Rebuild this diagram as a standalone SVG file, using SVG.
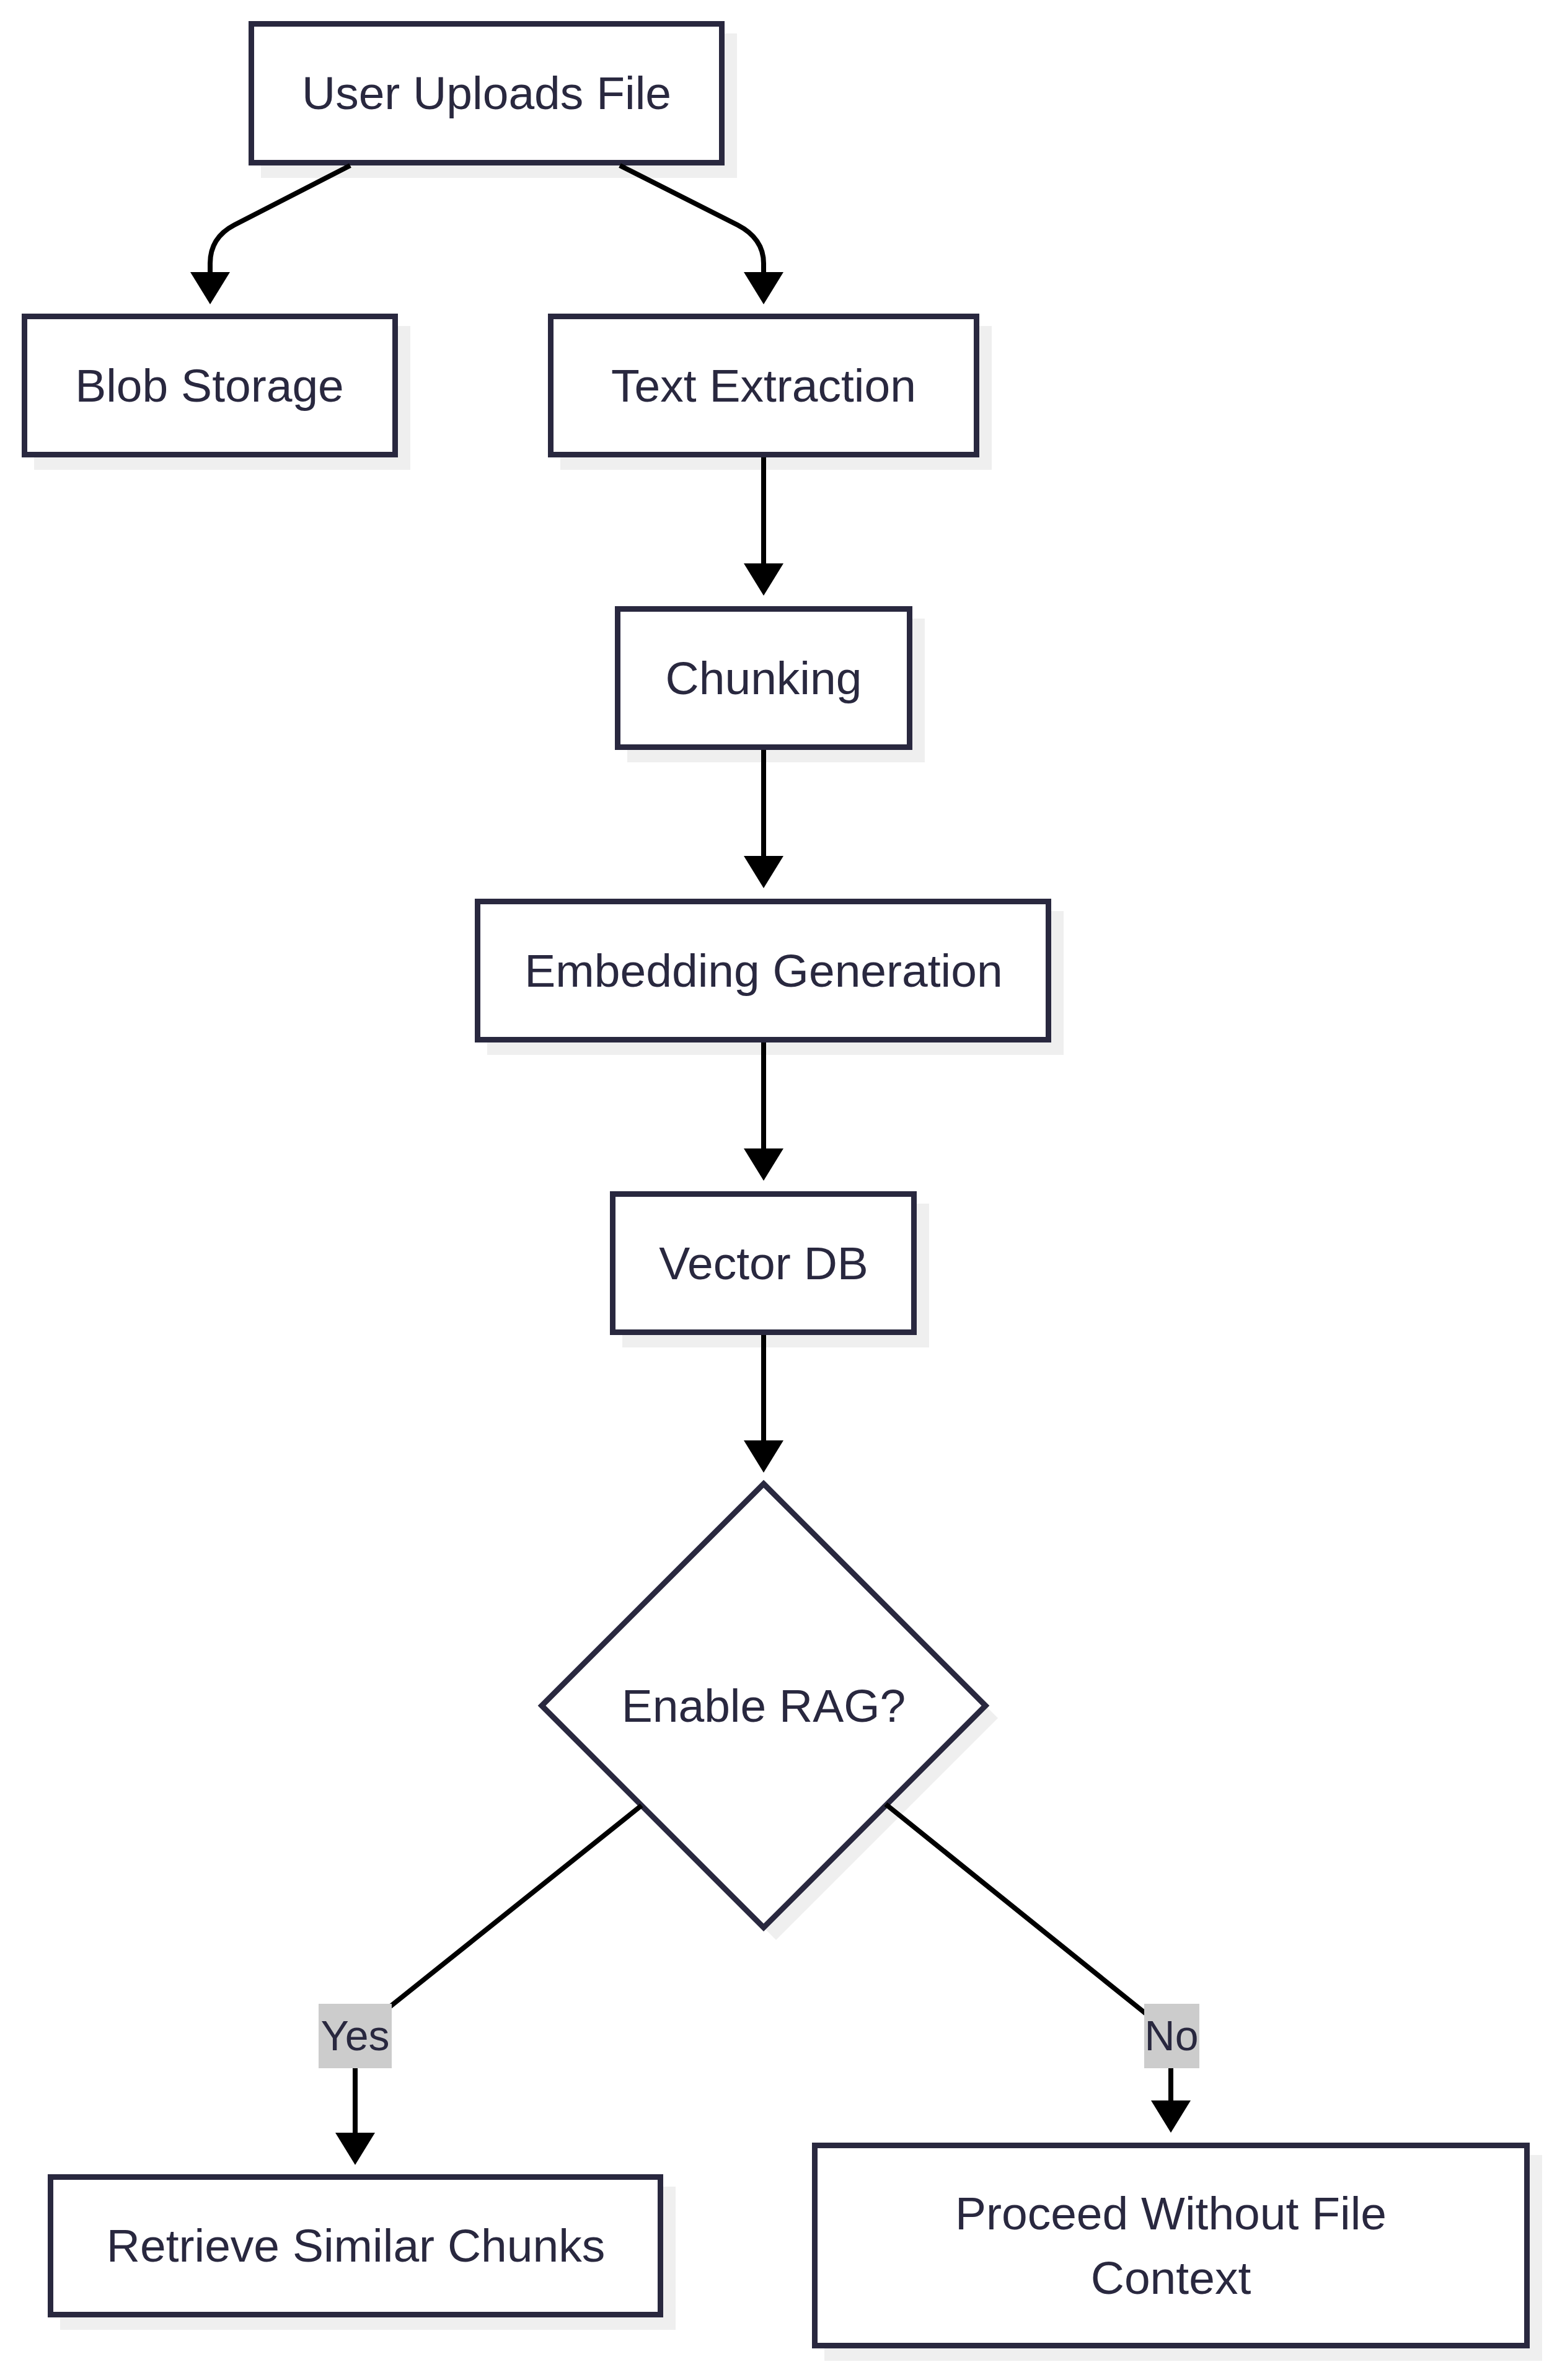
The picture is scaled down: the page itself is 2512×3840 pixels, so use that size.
<svg xmlns="http://www.w3.org/2000/svg" width="2512" height="3840" viewBox="0 0 2512 3840">
<defs>
<style>
.node rect.box, .node polygon.box { fill:#ffffff; stroke:#29283f; stroke-width:9; }
.shadow { fill:#efefef; stroke:none; }
.label { font-family:"Liberation Sans", Arial, sans-serif; font-size:75px; fill:#29283f; text-anchor:middle; }
.elabel { font-family:"Liberation Sans", Arial, sans-serif; font-size:68px; fill:#29283f; text-anchor:middle; }
.edge { fill:none; stroke:#000000; stroke-width:8; }
.lblbg { fill:#cccccc; }
</style>
<marker id="arrow" markerUnits="userSpaceOnUse" markerWidth="54" markerHeight="64" refX="0" refY="32" orient="auto" viewBox="0 0 54 64">
<path d="M0,0 L52,32 L0,64 z" fill="#000000"/>
</marker>
</defs>
<rect x="0" y="0" width="2512" height="3840" fill="#ffffff"/>

<g id="node-upload" class="node">
<rect class="shadow" x="421" y="54" width="768" height="233"/>
<rect class="box" x="405.5" y="38.5" width="759" height="224"/>
<text class="label" x="785" y="176">User Uploads File</text>
</g>

<g id="node-blob" class="node">
<rect class="shadow" x="55" y="526" width="607" height="232"/>
<rect class="box" x="39.5" y="510.5" width="598" height="223"/>
<text class="label" x="338" y="648">Blob Storage</text>
</g>

<g id="node-text" class="node">
<rect class="shadow" x="904" y="526" width="696" height="232"/>
<rect class="box" x="888.5" y="510.5" width="687" height="223"/>
<text class="label" x="1232" y="648">Text Extraction</text>
</g>

<g id="node-chunking" class="node">
<rect class="shadow" x="1012" y="998" width="480" height="232"/>
<rect class="box" x="996.5" y="982.5" width="471" height="223"/>
<text class="label" x="1232" y="1120">Chunking</text>
</g>

<g id="node-embedding" class="node">
<rect class="shadow" x="786" y="1470" width="930" height="232"/>
<rect class="box" x="770.5" y="1454.5" width="921" height="223"/>
<text class="label" x="1232" y="1592">Embedding Generation</text>
</g>

<g id="node-vector" class="node">
<rect class="shadow" x="1004" y="1942" width="495" height="232"/>
<rect class="box" x="988.5" y="1926.5" width="486" height="223"/>
<text class="label" x="1232" y="2064">Vector DB</text>
</g>

<g id="node-decision" class="node">
<polygon class="shadow" points="1252,2414 1610,2772 1252,3130 894,2772"/>
<polygon class="box" points="1232,2394 1590,2752 1232,3110 874,2752"/>
<text class="label" x="1232" y="2778">Enable RAG?</text>
</g>

<g id="node-retrieve" class="node">
<rect class="shadow" x="97" y="3528" width="993" height="231"/>
<rect class="box" x="81.5" y="3512.5" width="984" height="222"/>
<text class="label" x="574" y="3649">Retrieve Similar Chunks</text>
</g>

<g id="node-proceed" class="node">
<rect class="shadow" x="1330" y="3477" width="1158" height="332"/>
<rect class="box" x="1314.5" y="3461.5" width="1149" height="323"/>
<text class="label" x="1889" y="3597">Proceed Without File</text>
<text class="label" x="1889" y="3701">Context</text>
</g>

<g id="connectors">
<path class="edge" d="M565,267 L378,363 C355,375 339,395 339,425 L339,439" marker-end="url(#arrow)"/>
<path class="edge" d="M1000,267 L1190,363 C1215,376 1232,395 1232,425 L1232,439" marker-end="url(#arrow)"/>
<path class="edge" d="M1232,738 L1232,909" marker-end="url(#arrow)"/>
<path class="edge" d="M1232,1210 L1232,1381" marker-end="url(#arrow)"/>
<path class="edge" d="M1232,1682 L1232,1853" marker-end="url(#arrow)"/>
<path class="edge" d="M1232,2154 L1232,2324" marker-end="url(#arrow)"/>
<path class="edge" d="M1035,2913 L620,3245 Q573,3283 573,3330 L573,3441" marker-end="url(#arrow)"/>
<path class="edge" d="M1429,2911 L1850,3250 Q1889,3283 1889,3330 L1889,3389" marker-end="url(#arrow)"/>
<g id="label-yes">
<rect class="lblbg" x="514" y="3233" width="118" height="104"/>
<text class="elabel" x="573" y="3308">Yes</text>
</g>
<g id="label-no">
<rect class="lblbg" x="1846" y="3233" width="89" height="104"/>
<text class="elabel" x="1890" y="3308">No</text>
</g>
</g>
</svg>
